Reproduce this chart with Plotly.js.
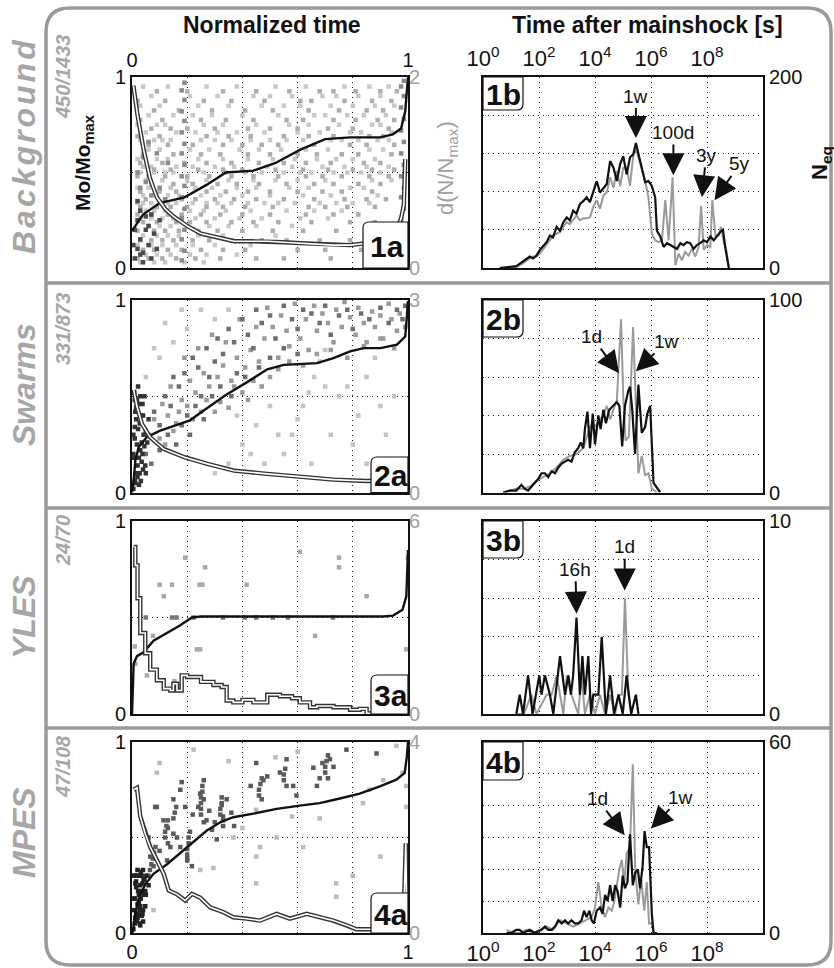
<!DOCTYPE html>
<html><head><meta charset="utf-8">
<script src="https://cdn.plot.ly/plotly-3.0.1.min.js"></script>
<style>html,body{margin:0;padding:0;background:#fff}#chart{width:834px;height:968px}</style>
</head><body><div id="chart"></div>
<script>
// ---------------- DATA ----------------
const groupNames = ['Background', 'Swarms', 'YLES', 'MPES'];
const groupCounts = ['450/1433', '331/873', '24/70', '47/108'];
const panelA = ['1a', '2a', '3a', '4a'];
const panelB = ['1b', '2b', '3b', '4b'];
const normTickText = ['0', '', '', '', '', '1'];
const logTickVals = [0, 2, 4, 6, 8];
const logTickText = ['10<sup>0</sup>', '10<sup>2</sup>', '10<sup>4</sup>', '10<sup>6</sup>', '10<sup>8</sup>'];
const rateMax = [2, 3, 6, 4];
const neqMax = [200, 100, 10, 60];
const neqGridStep = [40, 20, 2, 10];

// ---- Panel 1a (Background) ----
const bgMoX = [0, 0.04, 0.1, 0.19, 0.27, 0.34, 0.44, 0.52, 0.61, 0.70, 0.79, 0.9, 0.945, 0.975, 0.99, 0.995, 1];
const bgMoY = [0.195, 0.28, 0.34, 0.37, 0.435, 0.5, 0.51, 0.55, 0.62, 0.675, 0.684, 0.684, 0.70, 0.73, 0.82, 0.94, 1];
const bgRateX = [0.005, 0.02, 0.042, 0.065, 0.09, 0.12, 0.15, 0.2, 0.25, 0.31, 0.37, 0.43, 0.49, 0.55, 0.61, 0.67, 0.73, 0.79, 0.85, 0.91, 0.94, 0.96, 0.975, 0.985, 0.99];
const bgRateY = [1.91, 1.6, 1.24, 0.94, 0.74, 0.62, 0.54, 0.44, 0.36, 0.32, 0.28, 0.28, 0.28, 0.27, 0.26, 0.25, 0.24, 0.24, 0.26, 0.3, 0.34, 0.4, 0.52, 0.66, 1.14];
const bgLightRowY = [0.95, 0.9, 0.85, 0.8, 0.75, 0.71, 0.67, 0.62, 0.57, 0.53, 0.5, 0.46, 0.42, 0.38, 0.34, 0.3, 0.26, 0.22, 0.17, 0.12, 0.07, 0.03];
const bgLightRowX = [
  [0.04, 0.13, 0.27, 0.38, 0.52, 0.63, 0.77, 0.86, 0.93],
  [0.07, 0.21, 0.31, 0.44, 0.5, 0.58, 0.69, 0.74, 0.82, 0.9],
  [0.03, 0.1, 0.24, 0.35, 0.47, 0.55, 0.61, 0.72, 0.8, 0.88, 0.95],
  [0.06, 0.15, 0.22, 0.29, 0.4, 0.53, 0.66, 0.7, 0.78, 0.84, 0.92],
  [0.02, 0.09, 0.12, 0.26, 0.33, 0.45, 0.57, 0.64, 0.75, 0.87, 0.9],
  [0.05, 0.16, 0.23, 0.31, 0.38, 0.48, 0.6, 0.68, 0.79, 0.83, 0.94],
  [0.03, 0.08, 0.11, 0.14, 0.25, 0.3, 0.36, 0.43, 0.5, 0.56, 0.62, 0.72, 0.76, 0.82, 0.89, 0.93],
  [0.06, 0.1, 0.21, 0.28, 0.39, 0.46, 0.54, 0.63, 0.71, 0.86, 0.91],
  [0.02, 0.09, 0.13, 0.24, 0.33, 0.42, 0.51, 0.59, 0.67, 0.74, 0.8, 0.88],
  [0.04, 0.07, 0.16, 0.22, 0.3, 0.37, 0.49, 0.58, 0.69, 0.77, 0.85, 0.93],
  [0.03, 0.08, 0.12, 0.15, 0.26, 0.34, 0.41, 0.47, 0.55, 0.61, 0.65, 0.73, 0.78, 0.83, 0.9],
  [0.05, 0.11, 0.2, 0.27, 0.35, 0.44, 0.52, 0.6, 0.7, 0.87, 0.94],
  [0.02, 0.06, 0.14, 0.23, 0.29, 0.38, 0.45, 0.57, 0.64, 0.79, 0.84],
  [0.04, 0.09, 0.13, 0.17, 0.25, 0.32, 0.4, 0.5, 0.62, 0.72, 0.89],
  [0.02, 0.04, 0.07, 0.1, 0.13, 0.16, 0.22, 0.27, 0.31, 0.36, 0.42, 0.48, 0.53, 0.59, 0.68, 0.74, 0.8, 0.86],
  [0.05, 0.08, 0.12, 0.21, 0.26, 0.34, 0.43, 0.56, 0.66, 0.76],
  [0.03, 0.07, 0.11, 0.15, 0.23, 0.3, 0.39, 0.47, 0.61, 0.71],
  [0.06, 0.1, 0.14, 0.2, 0.28, 0.35, 0.45, 0.58],
  [0.04, 0.09, 0.13, 0.17, 0.24, 0.33, 0.52],
  [0.02, 0.07, 0.11, 0.16, 0.22, 0.3, 0.43],
  [0.05, 0.09, 0.14, 0.21, 0.27, 0.38],
  [0.03, 0.08, 0.12, 0.19, 0.26]
];
const bgGrayRowY = [0.925, 0.875, 0.825, 0.775, 0.73, 0.69, 0.645, 0.595, 0.55, 0.515, 0.48, 0.44, 0.4, 0.36, 0.32, 0.28, 0.24, 0.195, 0.145, 0.095, 0.05];
const bgGrayRowX = [
  [0.09, 0.2, 0.33, 0.45, 0.57, 0.68, 0.73, 0.81, 0.9, 0.96],
  [0.02, 0.12, 0.26, 0.36, 0.48, 0.61, 0.65, 0.77, 0.87, 0.94],
  [0.08, 0.17, 0.29, 0.41, 0.51, 0.64, 0.75, 0.85, 0.91],
  [0.03, 0.11, 0.25, 0.34, 0.44, 0.56, 0.62, 0.73, 0.81, 0.89, 0.95],
  [0.07, 0.14, 0.2, 0.3, 0.42, 0.5, 0.6, 0.71, 0.8, 0.93],
  [0.02, 0.1, 0.27, 0.35, 0.43, 0.55, 0.64, 0.73, 0.86, 0.91],
  [0.06, 0.13, 0.22, 0.33, 0.4, 0.47, 0.53, 0.66, 0.79, 0.85, 0.95],
  [0.04, 0.15, 0.25, 0.32, 0.42, 0.5, 0.6, 0.67, 0.76, 0.82, 0.94],
  [0.03, 0.11, 0.19, 0.27, 0.36, 0.46, 0.55, 0.63, 0.72, 0.84, 0.9],
  [0.08, 0.14, 0.24, 0.33, 0.4, 0.52, 0.62, 0.71, 0.8, 0.87, 0.95],
  [0.02, 0.06, 0.12, 0.2, 0.28, 0.36, 0.44, 0.53, 0.63, 0.69, 0.76, 0.86, 0.93],
  [0.07, 0.15, 0.22, 0.31, 0.38, 0.46, 0.56, 0.66, 0.73, 0.82, 0.9],
  [0.03, 0.1, 0.16, 0.27, 0.34, 0.42, 0.5, 0.6, 0.69, 0.76, 0.87],
  [0.05, 0.12, 0.18, 0.23, 0.3, 0.37, 0.45, 0.55, 0.66, 0.77, 0.85, 0.92],
  [0.03, 0.09, 0.14, 0.2, 0.27, 0.33, 0.41, 0.51, 0.64, 0.7, 0.78, 0.88],
  [0.02, 0.07, 0.13, 0.18, 0.25, 0.32, 0.4, 0.5, 0.63, 0.73, 0.82],
  [0.04, 0.09, 0.16, 0.21, 0.27, 0.36, 0.44, 0.53, 0.65, 0.79, 0.88],
  [0.02, 0.08, 0.12, 0.17, 0.24, 0.31, 0.4, 0.51, 0.62, 0.74, 0.85],
  [0.03, 0.07, 0.11, 0.15, 0.22, 0.28, 0.36, 0.47, 0.56, 0.68, 0.79, 0.9],
  [0.04, 0.08, 0.13, 0.18, 0.25, 0.33, 0.41, 0.6, 0.7, 0.83],
  [0.02, 0.06, 0.11, 0.16, 0.23, 0.32, 0.45, 0.55, 0.72]
];
const bgMidX = [0.18, 0.19, 0.18, 0.19, 0.18, 0.19, 0.18, 0.19, 0.18, 0.19, 0.18, 0.19, 0.18, 0.19, 0.18, 0.19, 0.18, 0.19,
  0.975, 0.985, 0.975, 0.985, 0.975, 0.985, 0.975, 0.985, 0.975, 0.985, 0.975, 0.985, 0.975, 0.985, 0.975, 0.985, 0.975, 0.985,
  0.02, 0.03, 0.05, 0.07, 0.1, 0.12, 0.04, 0.09, 0.13, 0.06];
const bgMidY = [0.04, 0.09, 0.15, 0.2, 0.26, 0.31, 0.37, 0.43, 0.48, 0.54, 0.6, 0.65, 0.71, 0.77, 0.82, 0.88, 0.93, 0.97,
  0.03, 0.08, 0.14, 0.2, 0.25, 0.31, 0.37, 0.42, 0.48, 0.54, 0.6, 0.66, 0.72, 0.78, 0.84, 0.9, 0.95, 0.98,
  0.5, 0.42, 0.45, 0.38, 0.42, 0.36, 0.58, 0.6, 0.55, 0.66];
const bgDarkX = [0.005, 0.01, 0.02, 0.03, 0.04, 0.05, 0.06, 0.02, 0.03, 0.07, 0.08, 0.01, 0.05, 0.09, 0.04, 0.06, 0.02, 0.1, 0.03, 0.07];
const bgDarkY = [0.12, 0.05, 0.1, 0.15, 0.08, 0.2, 0.12, 0.25, 0.3, 0.05, 0.18, 0.2, 0.27, 0.1, 0.03, 0.22, 0.35, 0.25, 0.07, 0.28];

// ---- Panel 2a (Swarms) ----
const swMoX = [0, 0.006, 0.012, 0.024, 0.054, 0.1, 0.16, 0.21, 0.27, 0.34, 0.42, 0.49, 0.55, 0.61, 0.67, 0.73, 0.79, 0.84, 0.9, 0.96, 0.99, 0.996, 1];
const swMoY = [0, 0.06, 0.166, 0.235, 0.288, 0.32, 0.35, 0.375, 0.436, 0.506, 0.576, 0.64, 0.663, 0.668, 0.672, 0.698, 0.733, 0.75, 0.75, 0.768, 0.81, 0.916, 0.995];
const swRateX = [0.006, 0.018, 0.036, 0.066, 0.114, 0.19, 0.27, 0.37, 0.49, 0.61, 0.73, 0.85, 0.92];
const swRateY = [1.6, 1.34, 1.07, 0.86, 0.68, 0.55, 0.45, 0.34, 0.29, 0.24, 0.2, 0.18, 0.19];
const swDarkX = [0.005, 0.01, 0.015, 0.02, 0.025, 0.03, 0.035, 0.005, 0.01, 0.015, 0.02, 0.025, 0.03, 0.04, 0.005, 0.01, 0.02, 0.03, 0.045, 0.05, 0.015, 0.025, 0.035, 0.04, 0.01,
  0.008, 0.012, 0.018, 0.022, 0.028, 0.032, 0.038, 0.042, 0.048, 0.055, 0.06, 0.008, 0.018, 0.028, 0.038, 0.05, 0.012, 0.022, 0.032, 0.045];
const swDarkY = [0.02, 0.06, 0.1, 0.14, 0.18, 0.22, 0.26, 0.3, 0.34, 0.38, 0.42, 0.46, 0.5, 0.12, 0.2, 0.28, 0.08, 0.36, 0.24, 0.32, 0.44, 0.04, 0.16, 0.4, 0.48,
  0.52, 0.05, 0.25, 0.33, 0.1, 0.4, 0.2, 0.3, 0.14, 0.26, 0.38, 0.18, 0.48, 0.36, 0.46, 0.1, 0.42, 0.55, 0.06, 0.5];
const swMidX = [0.06, 0.08, 0.1, 0.12, 0.14, 0.15, 0.17, 0.19, 0.2, 0.22, 0.24, 0.25, 0.27, 0.28, 0.3, 0.31, 0.33, 0.35, 0.37, 0.38, 0.4, 0.42, 0.44, 0.45, 0.47, 0.5, 0.52, 0.55, 0.58, 0.6, 0.62, 0.65, 0.68, 0.7, 0.72, 0.75, 0.78, 0.8, 0.83, 0.86, 0.9, 0.93, 0.96, 0.98, 0.99, 0.05, 0.07, 0.1, 0.13, 0.16, 0.18, 0.21, 0.23, 0.26, 0.29, 0.32, 0.36, 0.41, 0.46, 0.5, 0.55, 0.6];
const swMidY = [0.3, 0.42, 0.35, 0.5, 0.45, 0.6, 0.55, 0.62, 0.4, 0.7, 0.65, 0.5, 0.75, 0.6, 0.68, 0.8, 0.72, 0.85, 0.78, 0.62, 0.9, 0.82, 0.75, 0.95, 0.88, 0.92, 0.8, 0.97, 0.9, 0.85, 0.95, 0.93, 0.88, 0.97, 0.82, 0.92, 0.95, 0.85, 0.93, 0.9, 0.96, 0.88, 0.95, 0.9, 0.97, 0.2, 0.15, 0.22, 0.3, 0.25, 0.35, 0.3, 0.45, 0.38, 0.5, 0.55, 0.5, 0.6, 0.65, 0.7, 0.75, 0.72];
const swGrayX = [0.08, 0.1, 0.11, 0.13, 0.14, 0.16, 0.18, 0.19, 0.21, 0.23, 0.24, 0.26, 0.28, 0.29, 0.31, 0.33, 0.34, 0.36, 0.38, 0.39, 0.41, 0.43, 0.45, 0.46, 0.48, 0.49, 0.51, 0.53, 0.54, 0.56, 0.57, 0.59, 0.61, 0.63, 0.64, 0.66, 0.67, 0.69, 0.71, 0.73, 0.74, 0.76, 0.77, 0.79, 0.81, 0.82, 0.84, 0.85, 0.87, 0.88, 0.9, 0.91, 0.93, 0.94, 0.96, 0.97, 0.12, 0.15, 0.17, 0.2, 0.22, 0.25, 0.27, 0.3, 0.32, 0.35, 0.37, 0.4, 0.42, 0.44, 0.47, 0.5, 0.53, 0.57, 0.62, 0.67, 0.72, 0.78, 0.84, 0.9, 0.95, 0.99];
const swGrayY = [0.38, 0.28, 0.46, 0.4, 0.55, 0.36, 0.48, 0.7, 0.58, 0.52, 0.75, 0.62, 0.55, 0.82, 0.6, 0.66, 0.78, 0.58, 0.7, 0.9, 0.65, 0.74, 0.86, 0.68, 0.8, 0.96, 0.86, 0.7, 0.92, 0.84, 0.76, 0.98, 0.8, 0.9, 0.74, 0.97, 0.84, 0.93, 0.88, 0.78, 0.95, 0.86, 0.99, 0.91, 0.82, 0.96, 0.88, 0.78, 0.94, 0.86, 0.92, 0.8, 0.98, 0.9, 0.84, 0.93, 0.25, 0.32, 0.42, 0.45, 0.38, 0.42, 0.48, 0.42, 0.47, 0.44, 0.55, 0.52, 0.48, 0.58, 0.55, 0.6, 0.64, 0.68, 0.66, 0.72, 0.74, 0.7, 0.76, 0.8, 0.75, 0.86];
const swLightX = [0.55, 0.58, 0.6, 0.62, 0.64, 0.66, 0.68, 0.7, 0.4, 0.45, 0.5, 0.35, 0.3, 0.75, 0.78, 0.82, 0.85, 0.88, 0.9, 0.95, 0.72, 0.8, 0.92, 0.65, 0.85, 0.3, 0.2, 0.15, 0.1, 0.25, 0.12, 0.35, 0.05, 0.08, 0.18, 0.48, 0.53, 0.43, 0.38, 0.7];
const swLightY = [0.2, 0.3, 0.38, 0.45, 0.52, 0.6, 0.68, 0.74, 0.25, 0.35, 0.45, 0.15, 0.1, 0.5, 0.55, 0.4, 0.6, 0.7, 0.45, 0.5, 0.3, 0.25, 0.3, 0.15, 0.15, 0.9, 0.85, 0.78, 0.7, 0.95, 0.88, 0.95, 0.6, 0.75, 0.95, 0.15, 0.3, 0.2, 0.4, 0.55];

// ---- Panel 3a (YLES) ----
const ylMoX = [0, 0.006, 0.018, 0.042, 0.078, 0.127, 0.175, 0.217, 0.25, 0.91, 0.946, 0.98, 0.994, 1];
const ylMoY = [0, 0.26, 0.30, 0.32, 0.38, 0.42, 0.46, 0.5, 0.505, 0.505, 0.51, 0.54, 0.61, 0.85];
const ylRateX = [0.006, 0.012, 0.02, 0.03, 0.048, 0.066, 0.09, 0.115, 0.139, 0.15, 0.163, 0.18, 0.2, 0.25, 0.295, 0.325, 0.343, 0.367, 0.4, 0.44, 0.476, 0.49, 0.536, 0.58, 0.608, 0.645, 0.67, 0.73, 0.79, 0.825, 0.85, 0.946];
const ylRateY = [5.19, 4.62, 3.6, 2.52, 1.89, 1.38, 1.05, 0.79, 0.73, 0.94, 0.73, 1.2, 1.15, 1.0, 0.9, 0.84, 0.42, 0.36, 0.44, 0.36, 0.36, 0.6, 0.55, 0.49, 0.36, 0.21, 0.25, 0.21, 0.13, 0.16, 0.02, 0.01];
const ylDotX = [0.193, 0.265, 0.1, 0.145, 0.245, 0.255, 0.115, 0.415, 0.608, 0.75, 0.75, 0.85, 0.663, 0.076, 0.235, 0.247, 0.054, 0.012, 0.154, 0.994, 1.0, 0.01];
const ylDotY = [0.81, 0.76, 0.67, 0.67, 0.67, 0.67, 0.61, 0.67, 0.84, 0.81, 0.76, 0.61, 0.405, 0.405, 0.335, 0.335, 0.2, 0.26, 0.17, 0.335, 0.81, 0.35];
const ylLineDotX = [0.145, 0.161, 0.223, 0.33, 0.408, 0.45, 0.51, 0.565, 0.728, 0.05];
const ylLineDotY = [0.5, 0.5, 0.5, 0.5, 0.5, 0.5, 0.5, 0.5, 0.5, 0.5];

// ---- Panel 4a (MPES) ----
const mpMoX = [0, 0.004, 0.012, 0.024, 0.048, 0.078, 0.127, 0.175, 0.223, 0.27, 0.32, 0.367, 0.44, 0.524, 0.608, 0.68, 0.753, 0.825, 0.898, 0.958, 0.988, 0.996, 1];
const mpMoY = [0, 0.012, 0.1, 0.18, 0.255, 0.31, 0.36, 0.42, 0.475, 0.535, 0.58, 0.606, 0.625, 0.65, 0.667, 0.68, 0.704, 0.73, 0.768, 0.803, 0.838, 0.926, 1];
const mpRateX = [0.006, 0.018, 0.03, 0.048, 0.066, 0.09, 0.115, 0.133, 0.163, 0.193, 0.217, 0.247, 0.283, 0.33, 0.367, 0.416, 0.464, 0.524, 0.572, 0.633, 0.68, 0.729, 0.777, 0.813, 0.85, 0.97, 0.985, 0.992, 0.996];
const mpRateY = [3.0, 3.04, 2.44, 2.08, 1.8, 1.53, 1.24, 0.89, 0.81, 0.68, 0.82, 0.74, 0.54, 0.44, 0.33, 0.3, 0.26, 0.4, 0.3, 0.4, 0.33, 0.26, 0.16, 0.08, 0.08, 0.08, 0.5, 1.88, 0.05];
const mpDarkX = [0.005, 0.01, 0.015, 0.02, 0.025, 0.03, 0.035, 0.04, 0.045, 0.005, 0.01, 0.015, 0.02, 0.025, 0.03, 0.035, 0.04, 0.05, 0.01, 0.02, 0.03, 0.04, 0.015, 0.025, 0.035,
  0.008, 0.012, 0.018, 0.022, 0.028, 0.032, 0.038, 0.042, 0.048, 0.052, 0.008, 0.018, 0.028, 0.038, 0.048, 0.012, 0.022, 0.032, 0.042, 0.06];
const mpDarkY = [0.02, 0.05, 0.1, 0.15, 0.2, 0.25, 0.3, 0.33, 0.28, 0.12, 0.18, 0.24, 0.08, 0.3, 0.14, 0.22, 0.06, 0.2, 0.3, 0.33, 0.04, 0.12, 0.27, 0.16, 0.09,
  0.18, 0.26, 0.06, 0.22, 0.12, 0.32, 0.1, 0.2, 0.14, 0.3, 0.3, 0.3, 0.05, 0.26, 0.22, 0.08, 0.1, 0.18, 0.28, 0.25];
const mpMidX = [0.09, 0.114, 0.15, 0.175, 0.2, 0.217, 0.247, 0.26, 0.27, 0.29, 0.307, 0.325, 0.343, 0.43, 0.45, 0.476, 0.49, 0.536, 0.56, 0.584, 0.596, 0.657, 0.69, 0.717, 0.73, 0.68, 0.67, 0.777, 0.886, 0.084, 0.15, 0.175, 0.18, 0.193, 0.163, 0.139, 0.127, 0.1, 0.078, 0.066, 0.06, 0.13, 0.22, 0.24, 0.28, 0.3, 0.33, 0.36, 0.37,
  0.25, 0.25, 0.25, 0.25, 0.255, 0.255, 0.26, 0.26, 0.2, 0.2, 0.2, 0.205, 0.205, 0.21, 0.32, 0.32, 0.325, 0.325, 0.33, 0.33, 0.46, 0.46, 0.465, 0.47, 0.47, 0.7, 0.7, 0.705, 0.71, 0.71, 0.55, 0.55, 0.555, 0.56, 0.12, 0.12, 0.125, 0.13, 0.13, 0.15, 0.155, 0.16, 0.06, 0.065, 0.07, 0.075, 0.08, 0.085];
const mpMidY = [0.66, 0.59, 0.52, 0.45, 0.39, 0.35, 0.73, 0.70, 0.59, 0.54, 0.49, 0.67, 0.70, 0.77, 0.89, 0.80, 0.82, 0.84, 0.91, 0.77, 0.72, 0.865, 0.89, 0.91, 0.87, 0.81, 0.77, 0.96, 0.94, 0.66, 0.70, 0.75, 0.79, 0.66, 0.5, 0.45, 0.38, 0.43, 0.35, 0.4, 0.5, 0.55, 0.62, 0.66, 0.64, 0.58, 0.61, 0.63, 0.56,
  0.62, 0.65, 0.68, 0.71, 0.74, 0.77, 0.8, 0.58, 0.38, 0.41, 0.44, 0.47, 0.5, 0.53, 0.62, 0.65, 0.68, 0.71, 0.59, 0.56, 0.72, 0.75, 0.78, 0.81, 0.7, 0.84, 0.87, 0.9, 0.93, 0.81, 0.8, 0.83, 0.86, 0.77, 0.5, 0.53, 0.56, 0.59, 0.47, 0.6, 0.63, 0.66, 0.3, 0.33, 0.36, 0.39, 0.42, 0.45];
const mpLightX = [0.1, 0.09, 0.223, 0.45, 0.45, 0.464, 0.45, 0.524, 0.58, 0.68, 0.74, 0.74, 0.837, 0.9, 0.958, 0.98, 0.91, 0.078, 0.247, 0.295, 0.367, 0.994, 0.994, 0.6, 0.52, 0.35, 0.4, 0.62, 0.8, 0.86];
const mpLightY = [0.89, 0.84, 0.96, 0.645, 0.4, 0.45, 0.26, 0.5, 0.61, 0.6, 0.26, 0.19, 0.68, 0.4, 0.98, 0.84, 0.8, 0.12, 0.33, 0.34, 0.5, 0.66, 0.77, 0.95, 0.92, 0.9, 0.55, 0.45, 0.3, 0.75];

// ---- Panels b : log10(time after mainshock [s]) vs N_eq ----
const bgTimeBlack = [0.6, 0.95, 1.19, 1.43, 1.55, 1.67, 1.79, 1.91, 2.03, 2.15, 2.27, 2.39, 2.5, 2.63, 2.75, 2.87, 2.99, 3.1, 3.22, 3.34, 3.46, 3.58, 3.7, 3.82, 3.94, 4.06, 4.18, 4.3, 4.42, 4.54, 4.66, 4.78, 4.9, 5.01, 5.13, 5.25, 5.37, 5.46, 5.55, 5.67, 5.79, 5.91, 6.03, 6.15, 6.21, 6.33, 6.45, 6.57, 6.69, 6.81, 6.93, 7.05, 7.16, 7.28, 7.4, 7.52, 7.64, 7.76, 7.88, 8.0, 8.12, 8.24, 8.36, 8.48, 8.57, 8.66, 8.78];
const bgNeqBlack = [0, 1, 2, 7, 10, 12, 10, 13, 19, 23, 27, 34, 32, 43, 39, 48, 53, 50, 60, 57, 67, 70, 74, 69, 81, 91, 79, 83, 88, 112, 105, 91, 109, 117, 98, 116, 119, 131, 121, 105, 90, 91, 86, 74, 39, 33, 22, 26, 24, 22, 20, 26, 24, 27, 26, 20, 24, 26, 29, 27, 33, 29, 34, 38, 40, 20, 0];
const bgTimeGray = [0.6, 0.96, 1.19, 1.43, 1.55, 1.67, 1.79, 1.91, 2.03, 2.15, 2.27, 2.39, 2.51, 2.63, 2.75, 2.87, 2.99, 3.1, 3.22, 3.34, 3.46, 3.58, 3.7, 3.82, 3.94, 4.06, 4.18, 4.3, 4.42, 4.54, 4.66, 4.78, 4.9, 5.01, 5.13, 5.25, 5.37, 5.46, 5.55, 5.67, 5.79, 5.91, 6.03, 6.15, 6.27, 6.39, 6.51, 6.63, 6.77, 6.87, 6.99, 7.1, 7.22, 7.34, 7.46, 7.58, 7.7, 7.79, 7.88, 8.0, 8.12, 8.19, 8.3, 8.42, 8.5, 8.6, 8.69, 8.78];
const bgNeqGray = [0, 1, 1, 5, 8, 10, 12, 12, 15, 20, 24, 29, 34, 36, 38, 43, 48, 46, 50, 55, 50, 52, 52, 53, 64, 71, 62, 76, 79, 95, 84, 102, 86, 105, 105, 86, 119, 124, 116, 103, 91, 74, 36, 29, 27, 29, 71, 29, 95, 3, 15, 8, 17, 13, 20, 12, 22, 65, 19, 24, 22, 71, 34, 34, 43, 27, 19, 0];

const swTimeBlack = [0.72, 0.96, 1.19, 1.37, 1.49, 1.61, 1.79, 1.97, 2.09, 2.21, 2.33, 2.45, 2.57, 2.69, 2.81, 2.93, 3.04, 3.16, 3.28, 3.4, 3.49, 3.58, 3.64, 3.73, 3.82, 3.92, 4.0, 4.12, 4.2, 4.3, 4.39, 4.51, 4.66, 4.78, 4.87, 4.97, 5.07, 5.19, 5.25, 5.33, 5.43, 5.55, 5.67, 5.79, 5.87, 5.97, 6.09, 6.19, 6.27, 6.33];
const swNeqBlack = [0, 1, 1, 4, 2, 1, 4, 7, 10, 10, 8, 11, 10, 13, 15, 16, 17, 16, 21, 23, 26, 23, 33, 42, 23, 41, 25, 40, 33, 43, 36, 43, 45, 47, 45, 24, 45, 53, 55, 43, 20, 56, 31, 34, 41, 45, 5, 3, 1, 0];
const swTimeGray = [0.72, 0.96, 1.19, 1.43, 1.67, 1.91, 2.15, 2.39, 2.63, 2.87, 3.1, 3.34, 3.58, 3.7, 3.82, 3.94, 4.06, 4.18, 4.3, 4.42, 4.54, 4.66, 4.78, 4.93, 5.01, 5.09, 5.21, 5.36, 5.45, 5.55, 5.67, 5.79, 5.91, 6.03, 6.21];
const swNeqGray = [0, 1, 2, 2, 3, 6, 8, 10, 13, 17, 19, 20, 23, 29, 34, 36, 34, 38, 40, 45, 38, 43, 48, 90, 50, 27, 29, 86, 50, 10, 19, 9, 10, 2, 0];

const ylTimeBlack = [1.19, 1.31, 1.43, 1.61, 1.77, 2.01, 2.09, 2.21, 2.39, 2.51, 2.75, 2.93, 3.05, 3.14, 3.22, 3.34, 3.46, 3.55, 3.64, 3.76, 3.86, 3.94, 4.12, 4.24, 4.39, 4.54, 4.68, 4.84, 4.99, 5.13, 5.29, 5.46, 5.55];
const ylNeqBlack = [0, 1, 0, 2, 0, 2, 1, 2, 1, 0, 3, 1, 2, 1, 2, 5, 1, 3, 1, 3, 0, 1, 1, 4, 0, 2, 0, 1, 0, 2, 0, 1, 0];
const ylTimeGray = [1.19, 1.46, 1.73, 1.91, 2.27, 2.45, 2.63, 2.87, 2.99, 3.16, 3.4, 3.52, 3.64, 3.82, 4.0, 4.18, 4.36, 4.54, 4.72, 4.84, 4.96, 5.07, 5.19, 5.31];
const ylNeqGray = [0, 0, 1, 0, 1, 1, 2, 0, 2, 1, 0, 2, 0, 1, 0, 1, 0, 1, 0, 1, 1, 6, 1, 0];

const mpTimeBlack = [0.84, 1.01, 1.19, 1.31, 1.43, 1.67, 1.85, 2.09, 2.21, 2.33, 2.45, 2.57, 2.69, 2.81, 2.93, 3.04, 3.16, 3.28, 3.4, 3.52, 3.61, 3.7, 3.8, 3.88, 3.96, 4.06, 4.18, 4.27, 4.36, 4.45, 4.54, 4.63, 4.72, 4.81, 4.9, 4.99, 5.07, 5.16, 5.25, 5.35, 5.44, 5.53, 5.61, 5.7, 5.77, 5.85, 5.93, 6.03, 6.09, 6.21];
const mpNeqBlack = [0, 0, 1, 1, 0, 1, 0, 1, 2, 1, 1, 2, 4, 3, 4, 3, 4, 3, 3, 4, 7, 5, 7, 4, 3, 7, 8, 6, 12, 10, 15, 10, 15, 13, 8, 18, 14, 16, 31, 15, 19, 20, 14, 21, 32, 27, 27, 6, 0, 0];
const mpTimeGray = [0.84, 1.07, 1.31, 1.55, 1.79, 2.03, 2.27, 2.51, 2.75, 2.99, 3.22, 3.46, 3.7, 3.88, 4.0, 4.12, 4.24, 4.36, 4.48, 4.6, 4.69, 4.78, 4.87, 4.96, 5.04, 5.13, 5.25, 5.35, 5.44, 5.55, 5.65, 5.76, 5.85, 5.93, 6.03, 6.11];
const mpNeqGray = [1, 0, 0, 1, 0, 1, 2, 1, 4, 3, 2, 3, 4, 5, 8, 16, 8, 5, 8, 7, 10, 15, 20, 23, 15, 25, 27, 53, 19, 9, 17, 7, 16, 3, 3, 0];

// ---------------- LAYOUT HELPERS (positions / styles) ----------------
const W = 834, H = 968;
const FONT = 'Liberation Sans, Arial, Helvetica, sans-serif';
const PX = x => x / W, PY = y => 1 - y / H;
const colA = [PX(132), PX(408)];
const colB = [PX(483), PX(763)];
const rowsPx = [[77, 268], [300, 492.5], [521, 714], [742, 933]];
const nm = n => (n === 1 ? '' : String(n));
const GRID = '#1a1a1a', DASH = '1px,4px';
const TICKF = 20;

const layout = {
  width: W, height: H, autosize: false,
  margin: {l: 0, r: 0, t: 0, b: 0},
  paper_bgcolor: '#fff', plot_bgcolor: '#fff',
  showlegend: false,
  font: {family: FONT, size: 18, color: '#111'},
  annotations: [], shapes: []
};
const traces = [];

function flattenRows(rowsX, rowsY) {
  const x = [], y = [];
  rowsX.forEach((r, i) => r.forEach(v => { x.push(v); y.push(rowsY[i]); }));
  return {x, y};
}
const bgLight = flattenRows(bgLightRowX, bgLightRowY);
const bgGray = flattenRows(bgGrayRowX, bgGrayRowY);

const dotsA = [
  [[bgLight.x, bgLight.y, '#c8c8c8'], [bgGray.x, bgGray.y, '#adadad'], [bgMidX, bgMidY, '#8a8a8a'], [bgDarkX, bgDarkY, '#4a4a4a']],
  [[swLightX, swLightY, '#c4c4c4'], [swGrayX, swGrayY, '#9a9a9a'], [swMidX, swMidY, '#6e6e6e'], [swDarkX, swDarkY, '#333']],
  [[ylDotX, ylDotY, '#a8a8a8'], [ylLineDotX, ylLineDotY, '#777']],
  [[mpLightX, mpLightY, '#bbbbbb'], [mpMidX, mpMidY, '#5a5a5a'], [mpDarkX, mpDarkY, '#222']]
];
const moLines = [[bgMoX, bgMoY], [swMoX, swMoY], [ylMoX, ylMoY], [mpMoX, mpMoY]];
const rateLines = [[bgRateX, bgRateY], [swRateX, swRateY], [ylRateX, ylRateY], [mpRateX, mpRateY]];
const neqLines = [
  [[bgTimeGray, bgNeqGray], [bgTimeBlack, bgNeqBlack]],
  [[swTimeGray, swNeqGray], [swTimeBlack, swNeqBlack]],
  [[ylTimeGray, ylNeqGray], [ylTimeBlack, ylNeqBlack]],
  [[mpTimeGray, mpNeqGray], [mpTimeBlack, mpNeqBlack]]
];

for (let r = 0; r < 4; r++) {
  const xa = 2 * r + 1, xb = 2 * r + 2, yl = 3 * r + 1, yr = 3 * r + 2, yb = 3 * r + 3;
  const dom = [PY(rowsPx[r][1]), PY(rowsPx[r][0])];
  const side = r === 0 ? 'top' : 'bottom';
  const showX = r === 0 || r === 3;
  const common = {showline: true, linecolor: '#111', linewidth: 2, mirror: true, zeroline: false,
    ticks: '', showgrid: true, gridcolor: GRID, griddash: DASH, gridwidth: 1, fixedrange: true};

  layout['xaxis' + nm(xa)] = Object.assign({}, common, {
    domain: colA, range: [0, 1], anchor: 'y' + nm(yl), side: side, showticklabels: showX,
    tickvals: [0, 0.2, 0.4, 0.6, 0.8, 1], ticktext: normTickText, tickfont: {size: TICKF, color: '#111'}});
  layout['yaxis' + nm(yl)] = Object.assign({}, common, {
    domain: dom, range: [0, 1], anchor: 'x' + nm(xa),
    tickvals: [0, 0.5, 1], ticktext: ['0', '', '1'], tickfont: {size: TICKF, color: '#111'}});
  layout['yaxis' + nm(yr)] = {
    overlaying: 'y' + nm(yl), anchor: 'x' + nm(xa), side: 'right', range: [0, rateMax[r]],
    tickvals: [0, rateMax[r]], ticktext: ['0', String(rateMax[r])], ticks: '',
    showgrid: false, showline: false, zeroline: false, fixedrange: true,
    tickfont: {size: TICKF, color: '#a0a0a0'}};

  const gv = [];
  for (let v = 0; v <= neqMax[r] + 1e-9; v += neqGridStep[r]) gv.push(v);
  layout['xaxis' + nm(xb)] = Object.assign({}, common, {
    domain: colB, range: [0, 10], anchor: 'y' + nm(yb), side: side, showticklabels: showX,
    tickvals: logTickVals, ticktext: logTickText, tickfont: {size: 22, color: '#111'}});
  layout['yaxis' + nm(yb)] = Object.assign({}, common, {
    domain: dom, range: [0, neqMax[r]], anchor: 'x' + nm(xb), side: 'right',
    tickvals: gv, ticktext: gv.map((v, i) => (i === 0 || i === gv.length - 1) ? String(v) : ''),
    tickfont: {size: TICKF, color: '#111'}});

  dotsA[r].forEach(d => traces.push({type: 'scatter', mode: 'markers', x: d[0], y: d[1],
    xaxis: 'x' + nm(xa), yaxis: 'y' + nm(yl), hoverinfo: 'skip',
    marker: {symbol: 'square', size: 4.5, color: d[2], line: {width: 0}}}));
  traces.push({type: 'scatter', mode: 'lines', x: moLines[r][0], y: moLines[r][1],
    xaxis: 'x' + nm(xa), yaxis: 'y' + nm(yl), line: {color: '#111', width: 2.4}, hoverinfo: 'skip'});
  const shape = r === 2 ? 'hv' : 'linear';
  traces.push({type: 'scatter', mode: 'lines', x: rateLines[r][0], y: rateLines[r][1],
    xaxis: 'x' + nm(xa), yaxis: 'y' + nm(yr), line: {color: '#333', width: 4.4, shape: shape}, hoverinfo: 'skip'});
  traces.push({type: 'scatter', mode: 'lines', x: rateLines[r][0], y: rateLines[r][1],
    xaxis: 'x' + nm(xa), yaxis: 'y' + nm(yr), line: {color: '#fff', width: 1.6, shape: shape}, hoverinfo: 'skip'});
  traces.push({type: 'scatter', mode: 'lines', x: neqLines[r][0][0], y: neqLines[r][0][1],
    xaxis: 'x' + nm(xb), yaxis: 'y' + nm(yb), line: {color: '#9a9a9a', width: 2}, hoverinfo: 'skip'});
  traces.push({type: 'scatter', mode: 'lines', x: neqLines[r][1][0], y: neqLines[r][1][1],
    xaxis: 'x' + nm(xb), yaxis: 'y' + nm(yb), line: {color: '#111', width: 2.2}, hoverinfo: 'skip'});

  const nameY = [146, 385, 617, 833][r];
  layout.annotations.push({xref: 'paper', yref: 'paper', x: PX(24), y: PY(nameY), textangle: -90,
    showarrow: false, xanchor: 'center', yanchor: 'middle',
    text: r === 0 ? '<b><i><span style="letter-spacing:3px">' + groupNames[r] + '</span></i></b>' : '<b><i>' + groupNames[r] + '</i></b>',
    font: {size: 32, color: '#a6a6a6', family: FONT}});
  const countY = [77, 329, 541, 767][r];
  layout.annotations.push({xref: 'paper', yref: 'paper', x: PX(63), y: PY(countY), textangle: -90,
    showarrow: false, xanchor: 'center', yanchor: 'middle',
    text: '<b><i>' + groupCounts[r] + '</i></b>', font: {size: 20, color: '#a6a6a6', family: FONT}});

  const aBox = [[363, 222], [371, 457], [371, 675], [371, 893]][r];
  const aR = 408, aB = rowsPx[r][1], rr = 6;
  layout.shapes.push({type: 'path', xref: 'paper', yref: 'paper', fillcolor: '#fff', line: {color: '#111', width: 1.2},
    path: `M ${PX(aBox[0])},${PY(aB)} L ${PX(aBox[0])},${PY(aBox[1] + rr)} Q ${PX(aBox[0])},${PY(aBox[1])} ${PX(aBox[0] + rr)},${PY(aBox[1])} L ${PX(aR)},${PY(aBox[1])} L ${PX(aR)},${PY(aB)} Z`});
  layout.annotations.push({xref: 'paper', yref: 'paper', x: PX((aBox[0] + aR) / 2 + 1), y: PY((aBox[1] + aB) / 2 + 1),
    showarrow: false, xanchor: 'center', yanchor: 'middle', text: '<b>' + panelA[r] + '</b>',
    font: {size: 30, color: '#111', family: FONT}});
  const bT = rowsPx[r][0], bL = 483, bR = 523, bBot = [110, 337, 558, 780][r];
  layout.shapes.push({type: 'path', xref: 'paper', yref: 'paper', fillcolor: '#fff', line: {color: '#111', width: 1.2},
    path: `M ${PX(bL)},${PY(bT)} L ${PX(bR)},${PY(bT)} L ${PX(bR)},${PY(bBot - rr)} Q ${PX(bR)},${PY(bBot)} ${PX(bR - rr)},${PY(bBot)} L ${PX(bL)},${PY(bBot)} Z`});
  layout.annotations.push({xref: 'paper', yref: 'paper', x: PX((bL + bR) / 2), y: PY((bT + bBot) / 2 + 1),
    showarrow: false, xanchor: 'center', yanchor: 'middle', text: '<b>' + panelB[r] + '</b>',
    font: {size: 30, color: '#111', family: FONT}});
}

// arrow annotations on the (b) panels: [row, text, tip, tail]
const arrows = [
  [0, '1w', [5.46, 136], [5.46, 180]],
  [0, '100d', [6.8, 97], [6.8, 142]],
  [0, '3y', [7.82, 74], [7.97, 118]],
  [0, '5y', [8.27, 71], [9.17, 109]],
  [1, '1d', [4.86, 62], [3.88, 81]],
  [1, '1w', [5.46, 63], [6.57, 78.5]],
  [2, '16h', [3.34, 5.2], [3.3, 7.5]],
  [2, '1d', [5.06, 6.4], [5.06, 8.66]],
  [3, '1d', [5.06, 30.7], [4.08, 42.2]],
  [3, '1w', [6.0, 32.8], [7.07, 42.7]]
];
arrows.forEach(a => {
  const xr = 'x' + nm(2 * a[0] + 2), yr = 'y' + nm(3 * a[0] + 3);
  layout.annotations.push({xref: xr, yref: yr, axref: xr, ayref: yr, x: a[2][0], y: a[2][1], ax: a[3][0], ay: a[3][1],
    text: a[1], showarrow: true, arrowhead: 2, arrowsize: 2.2, arrowwidth: 2, arrowcolor: '#111',
    xanchor: 'center', yanchor: 'middle',
    font: {size: 19, color: '#111', family: FONT}, standoff: 0});
});

const C = {xref: 'paper', yref: 'paper', showarrow: false, xanchor: 'center', yanchor: 'middle'};
layout.annotations.push(
  Object.assign({}, C, {x: PX(272), y: PY(25), text: '<b>Normalized time</b>', font: {size: 23, color: '#111'}}),
  Object.assign({}, C, {x: PX(647), y: PY(25), text: '<b>Time after mainshock [s]</b>', font: {size: 23, color: '#111'}}),
  Object.assign({}, C, {x: PX(84), y: PY(163), textangle: -90, text: '<b>Mo/Mo<sub>max</sub></b>', font: {size: 21, color: '#111'}}),
  Object.assign({}, C, {x: PX(447), y: PY(168), textangle: -90, text: 'd(N/N<sub>max</sub>)', font: {size: 22, color: '#a0a0a0'}}),
  Object.assign({}, C, {x: PX(821), y: PY(163), textangle: -90, text: '<b>N<sub>eq</sub></b>', font: {size: 22, color: '#111'}})
);

function roundRect(x0, y0, x1, y1, r) {
  return `M ${PX(x0 + r)},${PY(y0)} L ${PX(x1 - r)},${PY(y0)} Q ${PX(x1)},${PY(y0)} ${PX(x1)},${PY(y0 + r)} L ${PX(x1)},${PY(y1 - r)} Q ${PX(x1)},${PY(y1)} ${PX(x1 - r)},${PY(y1)} L ${PX(x0 + r)},${PY(y1)} Q ${PX(x0)},${PY(y1)} ${PX(x0)},${PY(y1 - r)} L ${PX(x0)},${PY(y0 + r)} Q ${PX(x0)},${PY(y0)} ${PX(x0 + r)},${PY(y0)} Z`;
}
layout.shapes.push({type: 'path', xref: 'paper', yref: 'paper', layer: 'below', path: roundRect(46, 8, 831, 965, 24),
  line: {color: '#9a9a9a', width: 3.5}});
[283, 508, 728].forEach(y => layout.shapes.push({type: 'line', xref: 'paper', yref: 'paper', layer: 'below',
  x0: PX(46), x1: PX(831), y0: PY(y), y1: PY(y), line: {color: '#9a9a9a', width: 3.5}}));

Plotly.newPlot('chart', traces, layout, {staticPlot: true, displayModeBar: false});
</script></body></html>
